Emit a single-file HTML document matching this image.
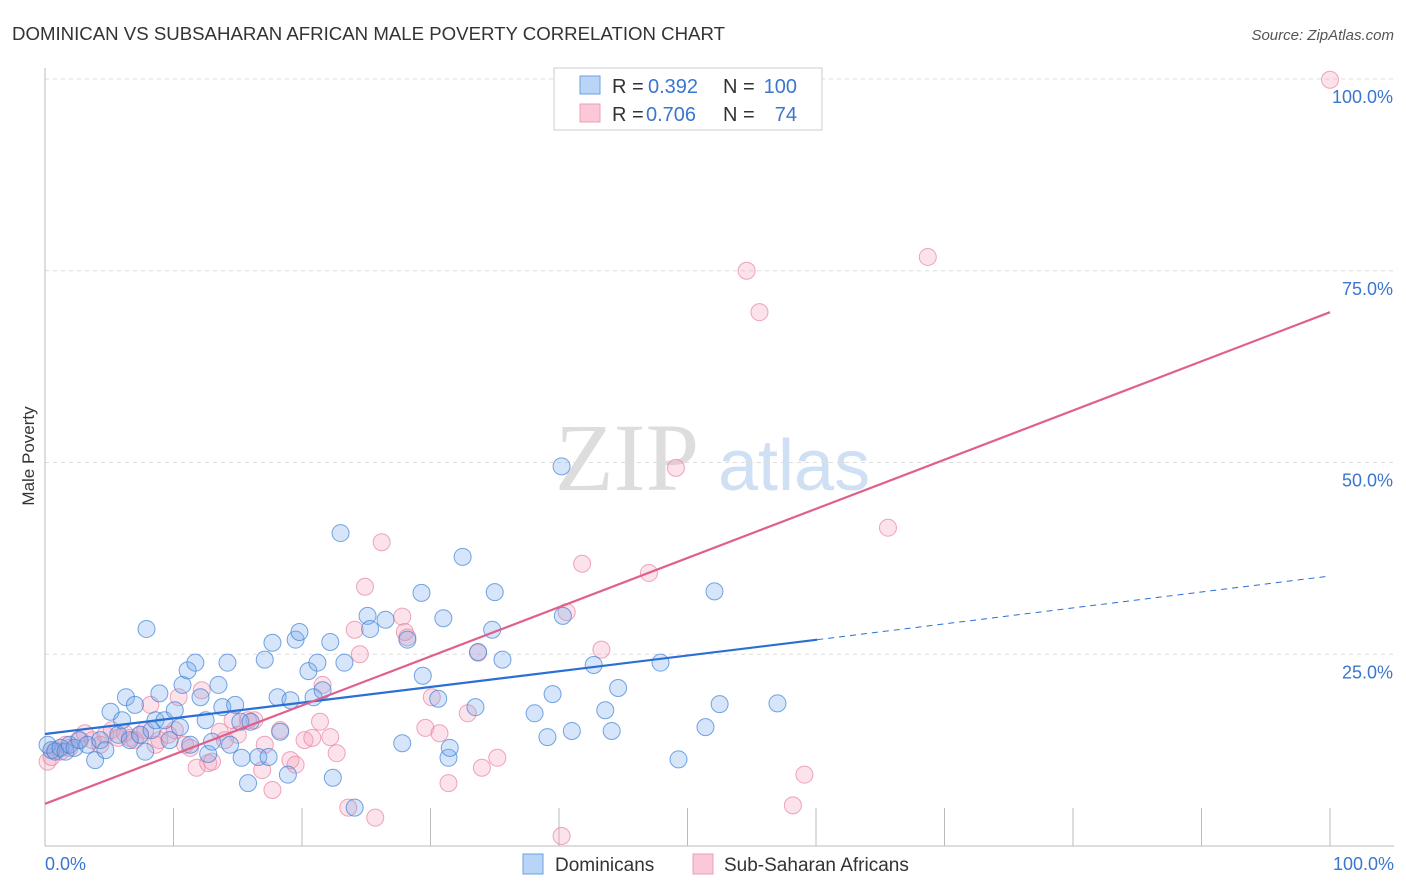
<!DOCTYPE html>
<html><head><meta charset="utf-8"><style>
body{margin:0;background:#fff;font-family:"Liberation Sans",sans-serif;}
svg{display:block}
</style></head><body>
<svg id="c" width="1406" height="892">
<text x="12" y="40" font-size="18" fill="#333" textLength="713" lengthAdjust="spacingAndGlyphs">DOMINICAN VS SUBSAHARAN AFRICAN MALE POVERTY CORRELATION CHART</text>
<text x="1394" y="40" font-size="15" fill="#555" font-style="italic" text-anchor="end">Source: ZipAtlas.com</text>
<text x="34" y="456" font-size="17" fill="#333" text-anchor="middle" transform="rotate(-90 34 456)">Male Poverty</text>
<text x="555" y="490" font-size="96" fill="#ddd" font-family="Liberation Serif">ZIP</text>
<text x="718" y="490" font-size="72" fill="#cfe0f4">atlas</text>
<g id="grid"></g><g id="pts"></g><g id="lines"></g>
<rect x="554" y="68" width="268" height="62" fill="#fff" stroke="#ccc"/>
<rect x="580" y="76" width="20" height="18" fill="#b8d4f6" stroke="#6fa0e0"/>
<rect x="580" y="104" width="20" height="18" fill="#fac8d6" stroke="#eaa0b6"/>
<g font-size="20">
<text x="612" y="93" fill="#333">R =</text><text x="648" y="93" fill="#3a76d0">0.392</text>
<text x="723" y="93" fill="#333">N =</text><text x="797" y="93" fill="#3a76d0" text-anchor="end">100</text>
<text x="612" y="121" fill="#333">R =</text><text x="646" y="121" fill="#3a76d0">0.706</text>
<text x="723" y="121" fill="#333">N =</text><text x="797" y="121" fill="#3a76d0" text-anchor="end">74</text>
</g>
<text x="45" y="870" font-size="18" fill="#3a76d0">0.0%</text>
<text x="1394" y="870" font-size="18" fill="#3a76d0" text-anchor="end">100.0%</text>
<rect x="523" y="854" width="20" height="20" fill="#b8d4f6" stroke="#6fa0e0"/>
<text x="555" y="871" font-size="19" fill="#333">Dominicans</text>
<rect x="693" y="854" width="20" height="20" fill="#fac8d6" stroke="#eaa0b6"/>
<text x="724" y="871" font-size="19" fill="#333">Sub-Saharan Africans</text>
</svg>
<script>
const yTicks=[25,50,75,100];
const yTickLabels=["25.0%","50.0%","75.0%","100.0%"];
const bluePx=[[48,745],[52,750],[55,752],[60,748],[65,752],[70,745],[75,748],[80,740],[88,745],[95,760],[100,740],[105,750],[110,712],[118,735],[122,720],[126,697],[130,740],[135,705],[140,735],[145,752],[147,629],[152,730],[155,720],[160,693],[165,720],[170,740],[175,710],[180,727],[183,685],[188,670],[190,745],[195,663],[200,697],[205,720],[208,754],[212,742],[218,685],[222,707],[228,663],[230,745],[235,705],[240,722],[242,758],[248,783],[250,722],[258,757],[265,660],[268,757],[273,643],[278,697],[280,732],[288,775],[290,700],[295,640],[300,632],[308,671],[313,697],[318,663],[322,690],[330,642],[333,778],[340,533],[345,663],[355,808],[367,616],[370,629],[385,620],[402,743],[408,640],[422,593],[423,676],[438,699],[443,618],[448,758],[450,748],[463,557],[475,707],[478,652],[492,630],[495,592],[502,660],[535,713],[548,737],[552,694],[562,466],[563,616],[572,731],[594,665],[605,710],[612,731],[618,688],[660,663],[678,759],[706,727],[714,591],[719,704],[778,703]];
const pinkPx=[[48,762],[52,757],[55,750],[60,752],[65,745],[70,748],[78,740],[85,733],[92,740],[100,745],[105,735],[112,730],[118,738],[125,733],[130,738],[135,740],[140,735],[145,730],[150,705],[155,745],[160,740],[168,735],[175,730],[178,697],[185,745],[190,748],[197,768],[202,690],[208,763],[212,762],[220,732],[225,740],[232,720],[238,735],[248,720],[255,720],[262,770],[265,745],[272,790],[280,730],[290,760],[296,765],[305,740],[312,738],[320,722],[323,685],[330,737],[337,753],[348,808],[355,630],[360,654],[365,587],[375,818],[382,542],[402,617],[405,632],[408,637],[425,728],[432,697],[440,733],[448,783],[468,713],[478,653],[482,768],[497,758],[562,836],[567,612],[582,564],[602,650],[649,573],[676,468],[747,271],[759,312],[793,805],[804,775],[888,528],[928,257],[1330,80]];
const blueX=bluePx.map(p=>+((p[0]-45)/12.85).toFixed(1));
const blueY=bluePx.map(p=>+((846-p[1])/7.67).toFixed(1));
const pinkX=pinkPx.map(p=>+((p[0]-45)/12.85).toFixed(1));
const pinkY=pinkPx.map(p=>+((846-p[1])/7.67).toFixed(1));
const blueTrend=[14.6,26.9,35.2];
const pinkTrend=[5.5,69.6];
const X=v=>45+v*12.85, Y=v=>846-v*7.67;
const NS="http://www.w3.org/2000/svg";
function mk(t,a,p){const e=document.createElementNS(NS,t);for(const k in a)e.setAttribute(k,a[k]);p.appendChild(e);return e;}
const g=document.getElementById('grid');
yTicks.forEach((t,i)=>{
 const l=mk('line',{x1:45,x2:1394,y1:Y(t),y2:Y(t),stroke:'#ddd','stroke-dasharray':'4,4'},g);
 
 
 const tx=mk('text',{x:1393,y:Y(t)+24,'font-size':18,fill:'#3a76d0','text-anchor':'end'},g);
 tx.textContent=yTickLabels[i];
 
 
});
const ax=mk('line',{x1:45,x2:45,y1:68,y2:846,stroke:'#bbb'},g);


const bx=mk('line',{x1:45,x2:1394,y1:846,y2:846,stroke:'#bbb'},g);


for(let i=1;i<=10;i++){const v=i*10;const t=mk('line',{x1:X(v),x2:X(v),y1:808,y2:846,stroke:'#bbb'},g);
 
 }
const P=document.getElementById('pts');
function dots(xs,ys,fill,stroke,name){xs.forEach((x,i)=>{const c=mk('circle',{cx:X(x),cy:Y(ys[i]),r:8.5,fill:fill,stroke:stroke,'stroke-width':1},P);
 
 });}
dots(pinkX,pinkY,'rgba(245,160,185,0.3)','rgba(232,130,160,0.7)','pink-point');
dots(blueX,blueY,'rgba(120,170,235,0.3)','rgba(60,130,215,0.7)','blue-point');
const L=document.getElementById('lines');
let a=mk('line',{x1:X(0),y1:Y(blueTrend[0]),x2:X(60.1),y2:Y(blueTrend[1]),stroke:'#2a6fd6','stroke-width':2.2},L);


a=mk('line',{x1:X(60.1),y1:Y(blueTrend[1]),x2:X(100),y2:Y(blueTrend[2]),stroke:'#2a6fd6','stroke-width':1,'stroke-dasharray':'6,5'},L);


a=mk('line',{x1:X(0),y1:Y(pinkTrend[0]),x2:X(100),y2:Y(pinkTrend[1]),stroke:'#e0608a','stroke-width':2.2},L);


</script>
</body></html>
